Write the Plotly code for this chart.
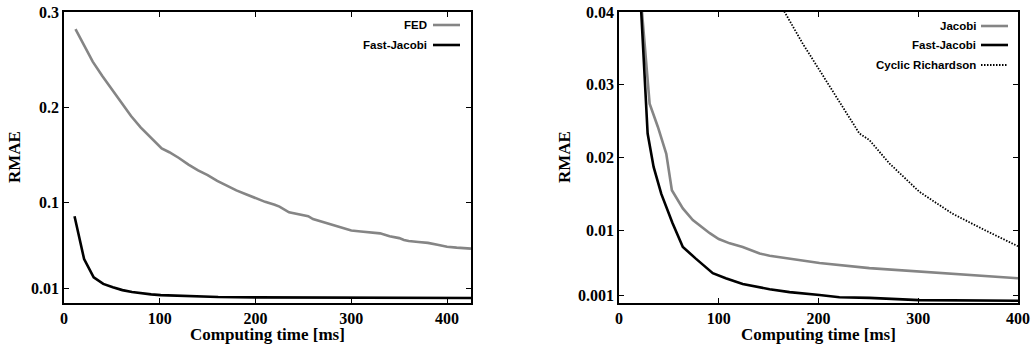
import plotly.graph_objects as go

# ---------------- data: left panel ----------------
fed_t = [12, 20, 30, 40, 50, 60, 70, 80, 90, 95, 102, 110, 120, 130, 140, 150, 160, 170,
         180, 190, 200, 210, 220, 225, 235, 245, 255, 260, 270, 280, 290, 300, 310, 320,
         330, 340, 350, 355, 360, 370, 380, 390, 400, 410, 425]
fed_v = [0.282, 0.267, 0.248, 0.233, 0.219, 0.205, 0.191, 0.179, 0.169, 0.165, 0.157,
         0.153, 0.147, 0.140, 0.134, 0.129, 0.123, 0.118, 0.113, 0.109, 0.105, 0.101,
         0.098, 0.096, 0.090, 0.088, 0.086, 0.083, 0.080, 0.077, 0.074, 0.071, 0.070,
         0.069, 0.068, 0.065, 0.063, 0.061, 0.060, 0.059, 0.058, 0.056, 0.054, 0.053, 0.052]
fjl_t = [11, 21, 31, 41, 51, 61, 71, 81, 91, 101, 121, 141, 161, 201, 251, 301, 351, 401, 425]
fjl_v = [0.086, 0.041, 0.022, 0.015, 0.0115, 0.0085, 0.0065, 0.005, 0.004, 0.0033,
         0.0024, 0.0017, 0.0013, 0.0009, 0.0007, 0.0005, 0.0004, 0.0003, 0.0003]

# ---------------- data: right panel ----------------
jac_t = [20, 30.7, 39, 47.4, 53, 64, 74, 91, 100, 111, 124, 141, 151, 171, 201, 251, 301, 351, 400]
jac_v = [0.045, 0.0274, 0.0242, 0.0205, 0.0155, 0.013, 0.0114, 0.0096, 0.0088, 0.0082,
         0.0077, 0.0068, 0.0065, 0.0061, 0.0055, 0.0048, 0.0043, 0.0038, 0.0034]
fjr_t = [20, 28.7, 34.7, 42.4, 53.6, 64, 77, 94, 107, 124, 151, 171, 201, 221, 251, 301, 400]
fjr_v = [0.046, 0.0233, 0.0187, 0.015, 0.011, 0.0077, 0.0061, 0.0041, 0.0034, 0.0026,
         0.0019, 0.0015, 0.0011, 0.0008, 0.0007, 0.0004, 0.0003]
cr_t = [160, 166, 184, 201, 218, 231, 241, 251, 271, 301, 334, 367, 400]
cr_v = [0.042, 0.040, 0.0357, 0.032, 0.0283, 0.0256, 0.0233, 0.0224, 0.0192, 0.0153,
        0.0123, 0.010, 0.0078]

x_ticks = [0, 100, 200, 300, 400]
yl_ticks = [0.01, 0.1, 0.2, 0.3]
yl_text = ["0.01", "0.1", "0.2", "0.3"]
yr_ticks = [0.001, 0.01, 0.02, 0.03, 0.04]
yr_text = ["0.001", "0.01", "0.02", "0.03", "0.04"]

W, H = 1034, 347
GRAY = "#858585"
SERIF = "Liberation Serif, Times New Roman, serif"
SANS = "Liberation Sans, Arial, sans-serif"
DOT = "1.5px,1.5px"

def px(x):
    return x / W

def py(y):
    return 1 - y / H

fig = go.Figure()
fig.add_trace(go.Scatter(x=fed_t, y=fed_v, mode="lines", line=dict(color=GRAY, width=2.6),
                         xaxis="x", yaxis="y", showlegend=False))
fig.add_trace(go.Scatter(x=fjl_t, y=fjl_v, mode="lines", line=dict(color="black", width=2.6),
                         xaxis="x", yaxis="y", showlegend=False))
fig.add_trace(go.Scatter(x=jac_t, y=jac_v, mode="lines", line=dict(color=GRAY, width=2.6),
                         xaxis="x2", yaxis="y2", showlegend=False))
fig.add_trace(go.Scatter(x=fjr_t, y=fjr_v, mode="lines", line=dict(color="black", width=2.6),
                         xaxis="x2", yaxis="y2", showlegend=False))
fig.add_trace(go.Scatter(x=cr_t, y=cr_v, mode="lines", line=dict(color="black", width=1.8, dash=DOT),
                         xaxis="x2", yaxis="y2", showlegend=False))

tickfont = dict(family=SERIF, size=16, color="black", weight="bold")
common_ax = dict(showline=True, linecolor="black", linewidth=1.5, mirror="ticks",
                 ticks="inside", ticklen=5, tickwidth=1, tickcolor="black",
                 showgrid=False, zeroline=False, tickfont=tickfont, automargin=False)

top, bottom = 12, 303
fig.update_layout(
    width=W, height=H,
    margin=dict(l=0, r=0, t=0, b=0),
    paper_bgcolor="white", plot_bgcolor="white",
    xaxis=dict(domain=[px(64), px(471)], range=[0, 425], tickvals=x_ticks,
               anchor="y", **common_ax),
    yaxis=dict(domain=[py(bottom), py(top)], range=[-0.005, 0.3], tickvals=yl_ticks,
               ticktext=yl_text, anchor="x", **common_ax),
    xaxis2=dict(domain=[px(619), px(1018)], range=[0, 400], tickvals=x_ticks,
                anchor="y2", **common_ax),
    yaxis2=dict(domain=[py(bottom), py(top)], range=[0, 0.04], tickvals=yr_ticks,
                ticktext=yr_text, anchor="x2", **common_ax),
)

titlefont = dict(family=SERIF, size=17, color="black", weight="bold")
ann = []
# axis titles
for cx in [(64 + 471) / 2, (619 + 1018) / 2]:
    ann.append(dict(x=px(cx), y=py(334), xref="paper", yref="paper", text="Computing time [ms]",
                    showarrow=False, font=titlefont, xanchor="center", yanchor="middle"))
for cx in [15, 565]:
    ann.append(dict(x=px(cx), y=py(157), xref="paper", yref="paper", text="RMAE",
                    showarrow=False, font=titlefont, textangle=-90, xanchor="center", yanchor="middle"))

# manual legends (text right-aligned, sample line on the right)
legfont = dict(family=SANS, size=11.5, color="black", weight="bold")
shapes = []
left_leg = [("FED", GRAY, "solid", 2.6, 25), ("Fast-Jacobi", "black", "solid", 2.6, 45)]
right_leg = [("Jacobi", GRAY, "solid", 2.6, 26), ("Fast-Jacobi", "black", "solid", 2.6, 45),
             ("Cyclic Richardson", "black", DOT, 1.8, 65)]
for items, tx, l0, l1 in [(left_leg, 429, 433, 460), (right_leg, 978, 981, 1008)]:
    for name, col, dash, wdt, yy in items:
        ann.append(dict(x=px(tx), y=py(yy), xref="paper", yref="paper", text=name,
                        showarrow=False, font=legfont, xanchor="right", yanchor="middle"))
        shapes.append(dict(type="line", xref="paper", yref="paper", x0=px(l0), x1=px(l1),
                           y0=py(yy), y1=py(yy), line=dict(color=col, width=wdt, dash=dash)))

fig.update_layout(annotations=ann, shapes=shapes)
fig.write_html("out.html", config={"displayModeBar": False},
               post_script="document.body.style.margin='0px';document.body.style.overflow='hidden';")
